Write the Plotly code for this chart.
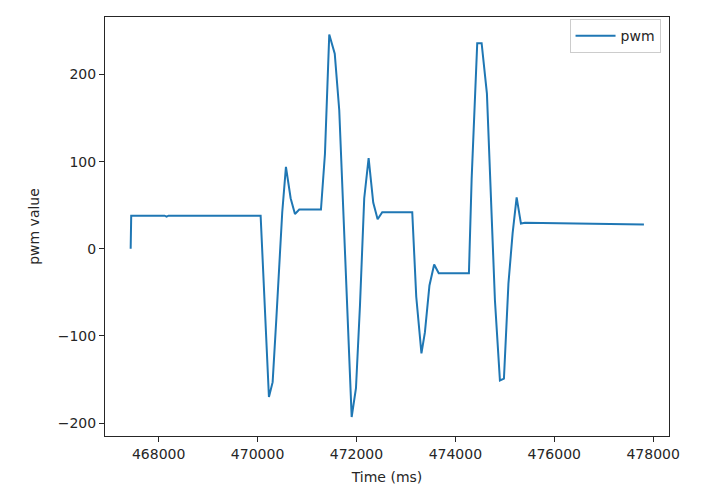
import plotly.graph_objects as go

time_ms = [467434, 467445, 468120, 468160, 468200, 470062, 470230, 470305, 470380, 470499,
           470574, 470669, 470756, 470843, 471282, 471363, 471450, 471561, 471652, 471733,
           471835, 471903, 471990, 472071, 472157, 472246, 472339, 472428, 472521, 473128,
           473209, 473314, 473384, 473476, 473571, 473664, 474274, 474329, 474442, 474531,
           474638, 474800, 474901, 474982, 475073, 475158, 475239, 475326, 475407, 477813]
pwm = [0, 38, 38, 37, 38, 38, -170, -153, -80, 42,
       94, 58, 40, 45, 45, 109, 246, 224, 159, 41,
       -100, -193, -160, -65, 58, 104, 53, 34, 42, 42,
       -55, -120, -96, -42, -18, -28, -28, 80, 236, 236,
       178, -59, -151, -149, -40, 18, 59, 29, 30, 28]

x_ticks = [468000, 470000, 472000, 474000, 476000, 478000]
y_ticks = [-200, -100, 0, 100, 200]

fig = go.Figure()
fig.add_trace(go.Scatter(x=time_ms, y=pwm, mode="lines", name="pwm",
                         line=dict(color="#1f77b4", width=2)))

font = dict(family="DejaVu Sans", size=14, color="#262626")
axis_common = dict(showline=True, linecolor="#262626", linewidth=1, mirror=True,
                   ticks="outside", ticklen=5, tickcolor="#262626", showgrid=False,
                   zeroline=False, tickfont=font)
fig.update_layout(
    width=725, height=499,
    margin=dict(l=97, r=64, t=9, b=71),
    paper_bgcolor="white", plot_bgcolor="white",
    font=font,
    xaxis=dict(range=[466915, 478320], tickvals=x_ticks, tickformat="d",
               title=dict(text="Time (ms)", font=font, standoff=11), **axis_common),
    yaxis=dict(range=[-214.8, 266], tickvals=y_ticks,
               title=dict(text="pwm value", font=font, standoff=14), **axis_common),
    showlegend=True,
    legend=dict(x=0.985, y=0.995, xanchor="right", yanchor="top",
                bordercolor="#cccccc", borderwidth=1, bgcolor="rgba(255,255,255,0.8)",
                font=font, itemwidth=40),
)
fig.write_html("out.html")
